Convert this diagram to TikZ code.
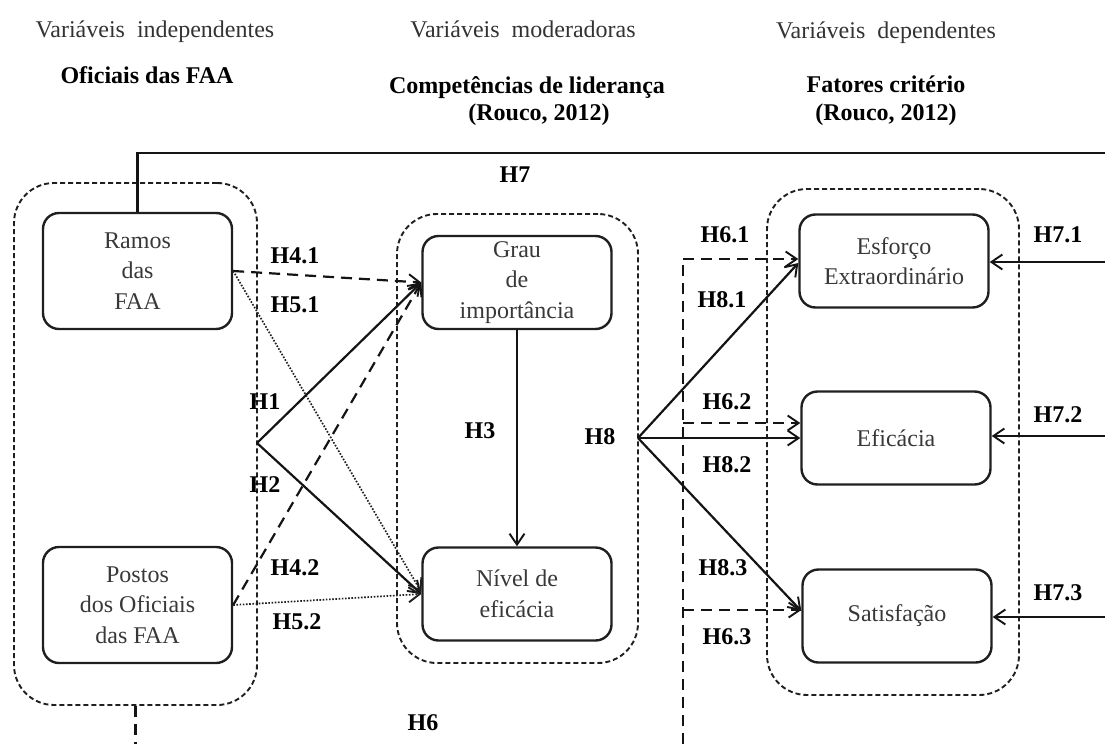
\documentclass[tikz,border=0pt]{standalone}
\usepackage{fontspec}
\setmainfont{Liberation Serif}
\usetikzlibrary{arrows.meta}
\tikzset{
  varbox/.style={draw=black!88, line width=2.4pt, rounded corners=16pt,
    minimum width=189pt, minimum height=93pt, align=center, text=black!78,
    font=\fontsize{24}{30.5}\selectfont, inner sep=0pt},
  groupbox/.style={draw=black!88, line width=1.9pt, dash pattern=on 5pt off 3pt,
    rounded corners=40pt, inner sep=0pt},
  hyp/.style={font=\fontsize{24}{28}\selectfont\bfseries, inner sep=0pt},
  hdr/.style={font=\fontsize{24}{28}\selectfont, text=black!80, anchor=base, inner sep=0pt},
  hdrb/.style={font=\fontsize{24}{28}\selectfont\bfseries, anchor=base, inner sep=0pt},
  tip/.style={-{Straight Barb[length=11pt,width=15pt,line width=1.9pt]}},
  solidln/.style={line width=2.2pt, draw=black!92},
  dashln/.style={line width=2.2pt, draw=black!92, dash pattern=on 11pt off 7pt},
  dotln/.style={line width=1.7pt, draw=black!88, dash pattern=on 1.6pt off 1.6pt},
}
\begin{document}
\begin{tikzpicture}[x=1pt,y=-1pt]
\useasboundingbox (0,0) rectangle (1105,744);

% column headings
\node[hdr]  (hIndep) at (155,37)  {Variáveis\ \ independentes};
\node[hdrb] (tIndep) at (147,83)  {Oficiais das FAA};
\node[hdr]  (hModer) at (523,37)  {Variáveis\ \ moderadoras};
\node[hdrb] (tModer) at (527,93)  {Competências de liderança};
\node[hdrb] (rModer) at (539,120) {(Rouco, 2012)};
\node[hdr]  (hDep)   at (886,38)  {Variáveis\ \ dependentes};
\node[hdrb] (tDep)   at (886,92)  {Fatores critério};
\node[hdrb] (rDep)   at (886,120) {(Rouco, 2012)};

% dashed groups
\node[groupbox, minimum width=243pt, minimum height=522pt] (gL) at (135.5,444) {};
\node[groupbox, minimum width=241pt, minimum height=449pt] (gM) at (517.5,438.5) {};
\node[groupbox, minimum width=252pt, minimum height=506pt] (gR) at (893,442) {};

% variables
\node[varbox, minimum height=116pt] (ram) at (137.5,271) {Ramos\\das\\FAA};
\node[varbox, minimum height=116pt] (pos) at (137.5,605) {Postos\\dos Oficiais\\das FAA};
\node[varbox] (grau) at (517,282.5) {Grau\\de\\importância};
\node[varbox] (niv)  at (517,594)   {Nível de\\eficácia};
\node[varbox] (esf)  at (894,261)   {Esforço\\Extraordinário};
\node[varbox] (efi)  at (896,438)   {Eficácia};
\node[varbox] (sat)  at (897,616)   {Satisfação};

% branching points and free ends
\coordinate (j1) at (257,443);
\coordinate (j8) at (638,438);
\coordinate (h7c) at (1105,153);
\coordinate (h6a) at (683,259);
\coordinate (h6b) at (683,423);
\coordinate (h6c) at (683,610);
\coordinate (h6d) at (683,744);
\coordinate (h6l) at (135.5,744);
\coordinate (e1) at (1105,262);
\coordinate (e2) at (1105,436);
\coordinate (e3) at (1105,617);

% H1, H2, H3
\draw[solidln, tip] (j1) -- (grau.west);
\draw[solidln, tip] (j1) -- (niv.west);
\draw[solidln, tip] (grau.south) -- (niv.north);

% H4 (dashed) and H5 (dotted)
\draw[dashln, tip] (ram.east) -- (grau.west);
\draw[dashln, tip] (pos.east) -- (grau.west);
\draw[dotln, tip] (ram.east) -- ([yshift=2pt]niv.west);
\draw[dotln, tip] (pos.east) -- (niv.west);

% H8
\draw[solidln, tip] (j8) -- ([yshift=-2pt]esf.west);
\draw[solidln, tip] (j8) -- (efi.west);
\draw[solidln, tip] (j8) -- ([yshift=5pt]sat.west);

% H6
\draw[dashln] (h6d) -- (h6a);
\draw[dashln, tip] (h6a) -- (h6a -| esf.west);
\draw[dashln, tip] (h6b) -- (h6b -| efi.west);
\draw[dashln, tip] (h6c) -- (h6c -| sat.west);
\draw[dashln] (gL.south) -- (h6l);

% H7
\draw[solidln] (ram.north) |- (h7c);
\draw[solidln, tip] (e1) -- (e1 -| esf.east);
\draw[solidln, tip] (e2) -- (e2 -| efi.east);
\draw[solidln, tip] (e3) -- (e3 -| sat.east);

% hypothesis labels
\node[hyp] (lH7)  at (515,175)  {H7};
\node[hyp] (lH41) at (295,256)  {H4.1};
\node[hyp] (lH51) at (295,305)  {H5.1};
\node[hyp] (lH1)  at (265,402)  {H1};
\node[hyp] (lH2)  at (265,485)  {H2};
\node[hyp] (lH42) at (295,568)  {H4.2};
\node[hyp] (lH52) at (297,622)  {H5.2};
\node[hyp] (lH3)  at (480,431)  {H3};
\node[hyp] (lH8)  at (600,437)  {H8};
\node[hyp] (lH61) at (725,235)  {H6.1};
\node[hyp] (lH81) at (722,300)  {H8.1};
\node[hyp] (lH62) at (727,402)  {H6.2};
\node[hyp] (lH82) at (727,465)  {H8.2};
\node[hyp] (lH83) at (723,568)  {H8.3};
\node[hyp] (lH63) at (727,637)  {H6.3};
\node[hyp] (lH6)  at (423,723)  {H6};
\node[hyp] (lH71) at (1058,235) {H7.1};
\node[hyp] (lH72) at (1058,415) {H7.2};
\node[hyp] (lH73) at (1058,593) {H7.3};
\end{tikzpicture}
\end{document}
